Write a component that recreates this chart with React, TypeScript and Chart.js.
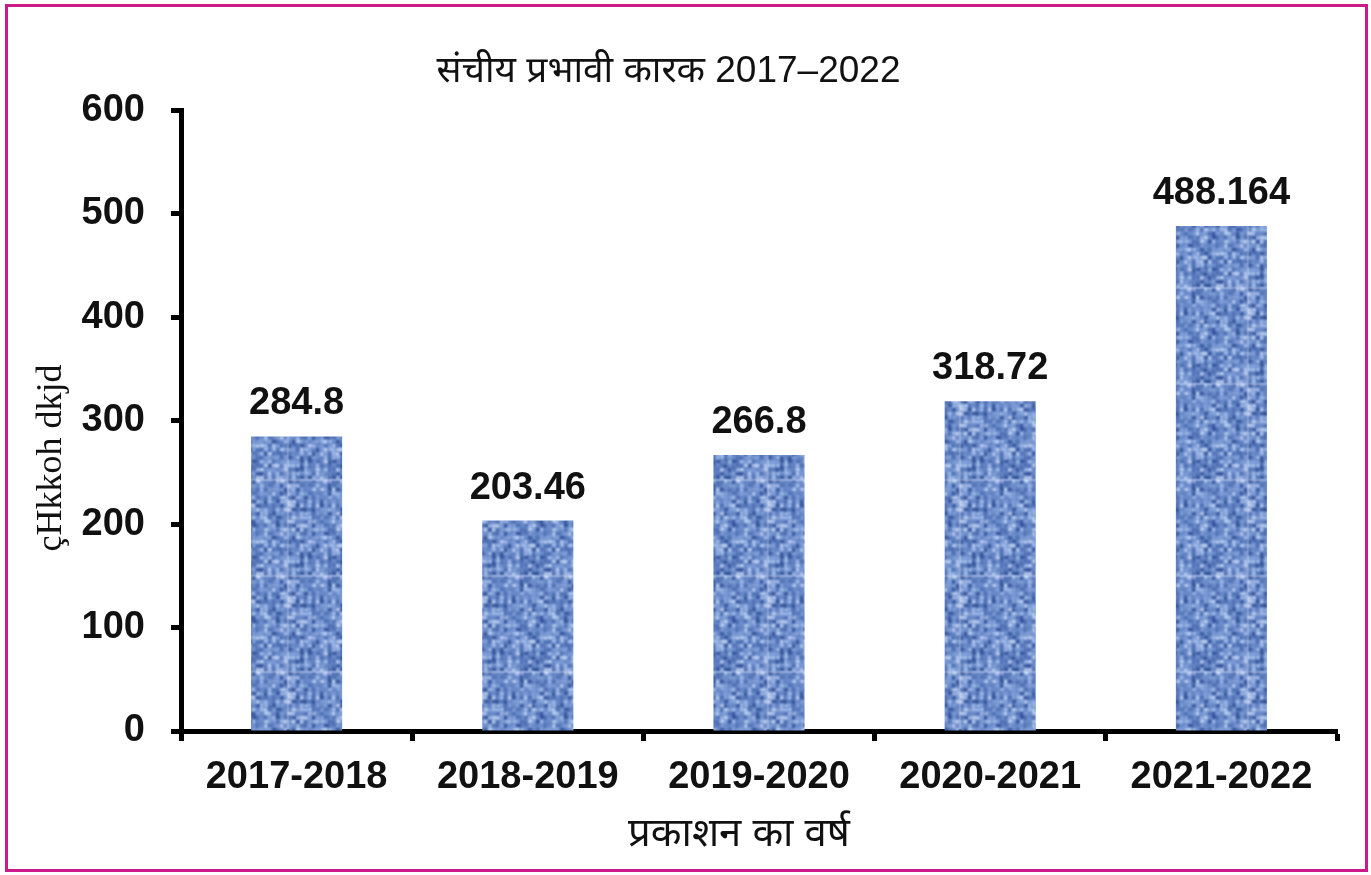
import React, { useEffect, useRef } from "react";
import { Chart, registerables } from "chart.js";

Chart.register(...registerables);

const categories: string[] = ["2017-2018", "2018-2019", "2019-2020", "2020-2021", "2021-2022"];
const values: number[] = [284.8, 203.46, 266.8, 318.72, 488.164];
const yTicks: number[] = [0, 100, 200, 300, 400, 500, 600];
const titleText = "संचीय प्रभावी कारक 2017–2022";
const xTitleText = "प्रकाशन का वर्ष";
const yTitleText = "çHkkoh dkjd";

const textureTones: string[] = ["#33549a", "#4f71b6", "#6889c9", "#82a1da", "#a2bdea", "#bfd3f3"];

function cellHash(i: number, j: number): number {
  let h = (i * 374761393 + j * 668265263) | 0;
  h = (h ^ (h >>> 13)) * 1274126177;
  h = h ^ (h >>> 16);
  return (h >>> 0) % 100;
}

function makePattern(ctx: CanvasRenderingContext2D): CanvasPattern | string {
  const size = 96;
  const raw = document.createElement("canvas");
  raw.width = size;
  raw.height = size;
  const r = raw.getContext("2d");
  if (!r) return "#7595d0";
  r.fillStyle = "#7391ce";
  r.fillRect(0, 0, size, size);
  const cell = 4;
  const n = size / cell;
  for (let i = 0; i < n; i++) {
    for (let j = 0; j < n; j++) {
      const h = cellHash(i, j);
      let idx: number;
      if (h < 14) idx = 0;
      else if (h < 32) idx = 1;
      else if (h < 52) idx = 2;
      else if (h < 72) idx = 3;
      else if (h < 88) idx = 4;
      else idx = 5;
      r.fillStyle = textureTones[idx];
      if ((i + j) % 2 === 0) r.fillRect(i * cell, j * cell, cell, cell - 1);
      else r.fillRect(i * cell, j * cell, cell - 1, cell);
    }
  }
  // faint weave lines
  r.fillStyle = "rgba(40,70,140,0.25)";
  for (let k = 0; k < size; k += 8) {
    r.fillRect(k, 0, 1, size);
    r.fillRect(0, k + 3, size, 1);
  }
  const off = document.createElement("canvas");
  off.width = size;
  off.height = size;
  const c = off.getContext("2d");
  if (!c) return ctx.createPattern(raw, "repeat") || "#7595d0";
  c.filter = "blur(0.8px)";
  for (let dx = -1; dx <= 1; dx++) {
    for (let dy = -1; dy <= 1; dy++) {
      c.drawImage(raw, dx * size, dy * size);
    }
  }
  c.filter = "none";
  return ctx.createPattern(off, "repeat") || "#7595d0";
}

const labelPlugin = {
  id: "valueLabels",
  afterDatasetsDraw(chart: any) {
    const ctx = chart.ctx as CanvasRenderingContext2D;
    const meta = chart.getDatasetMeta(0);
    ctx.save();
    ctx.font = "bold 38px 'Liberation Sans', Arial, sans-serif";
    ctx.fillStyle = "#111";
    ctx.textAlign = "center";
    ctx.textBaseline = "alphabetic";
    meta.data.forEach((bar: any, i: number) => {
      ctx.fillText(String(values[i]), bar.x, bar.y - 22);
    });
    ctx.restore();
  },
};

const axisTitlePlugin = {
  id: "axisTitles",
  afterDraw(chart: any) {
    const ctx = chart.ctx as CanvasRenderingContext2D;
    ctx.save();
    ctx.fillStyle = "#111";
    ctx.textAlign = "center";
    ctx.font = "40px 'Liberation Sans', Arial, 'Noto Sans', sans-serif";
    ctx.textBaseline = "alphabetic";
    ctx.fillText(xTitleText, 739, 846);
    ctx.translate(52, 458);
    ctx.rotate(-Math.PI / 2);
    ctx.font = "36px 'Liberation Serif', 'Times New Roman', serif";
    ctx.textBaseline = "middle";
    ctx.fillText(yTitleText, 0, 0);
    ctx.restore();
  },
};

export default function App() {
  const ref = useRef<HTMLCanvasElement | null>(null);

  useEffect(() => {
    document.body.style.margin = "0";
    const canvas = ref.current;
    if (!canvas) return;
    const ctx = canvas.getContext("2d");
    if (!ctx) return;
    const pattern = makePattern(ctx);
    const chart = new Chart(canvas, {
      type: "bar",
      data: {
        labels: categories,
        datasets: [
          {
            data: values,
            backgroundColor: pattern as any,
            borderWidth: 0,
            categoryPercentage: 1,
            barPercentage: 0.394,
          },
        ],
      },
      options: {
        animation: false,
        responsive: false,
        devicePixelRatio: 1,
        layout: { padding: { left: 0, right: 34, top: 0, bottom: 0 } },
        plugins: {
          legend: { display: false },
          tooltip: { enabled: false },
          title: {
            display: true,
            text: titleText,
            color: "#111",
            font: { family: "'Liberation Sans', Arial, 'Noto Sans', sans-serif", size: 37, weight: "normal" },
            padding: { top: 50, bottom: 16 },
          },
        },
        scales: {
          x: {
            afterFit(scale: any) {
              scale.height = 144;
            },
            border: { display: true, color: "#000", width: 5 },
            grid: {
              display: true,
              drawOnChartArea: false,
              drawTicks: true,
              tickLength: 10,
              tickWidth: 5,
              tickColor: "#000",
              offset: true,
            },
            ticks: {
              color: "#111",
              padding: 14,
              maxRotation: 0,
              font: { family: "'Liberation Sans', Arial, sans-serif", size: 38, weight: "bold" },
            },
          },
          y: {
            min: 0,
            max: 600,
            afterFit(scale: any) {
              scale.width = 181;
            },
            afterBuildTicks(scale: any) {
              scale.ticks = yTicks.map((v) => ({ value: v }));
            },
            border: { display: true, color: "#000", width: 5 },
            grid: {
              display: true,
              drawOnChartArea: false,
              drawTicks: true,
              tickLength: 10,
              tickWidth: 5,
              tickColor: "#000",
            },
            ticks: {
              color: "#111",
              padding: 26,
              font: { family: "'Liberation Sans', Arial, sans-serif", size: 38, weight: "bold" },
            },
          },
        },
      },
      plugins: [labelPlugin, axisTitlePlugin],
    });
    return () => chart.destroy();
  }, []);

  return (
    <div style={{ position: "fixed", left: 0, top: 0, width: 1371, height: 875, background: "#fff" }}>
      <canvas ref={ref} width={1371} height={875} style={{ width: 1371, height: 875, display: "block" }} />
      <div
        style={{
          position: "absolute",
          left: 5,
          top: 4,
          width: 1363,
          height: 868,
          boxSizing: "border-box",
          border: "3px solid #cc1a88",
          pointerEvents: "none",
        }}
      />
    </div>
  );
}
